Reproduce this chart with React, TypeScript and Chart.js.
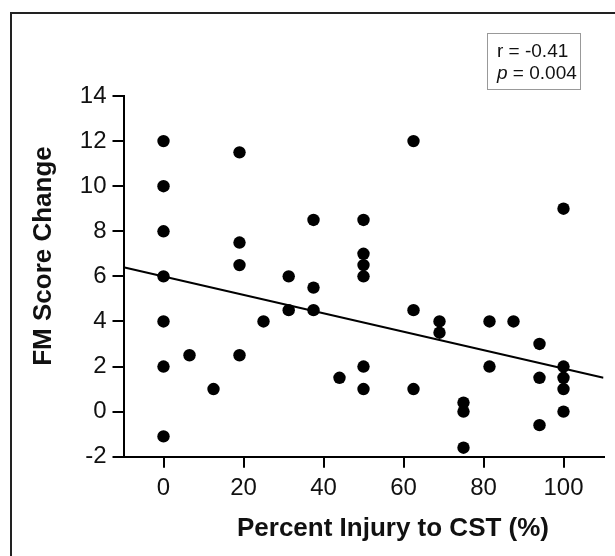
import { useEffect, useRef } from 'react';
import { Chart, registerables } from 'chart.js';

Chart.register(...registerables);

const injuryPct = [
  0, 0, 0, 0, 0, 0, 0,
  6.5, 12.5,
  19, 19, 19, 19,
  25,
  31.3, 31.3,
  37.5, 37.5, 37.5,
  44,
  50, 50, 50, 50, 50, 50,
  62.5, 62.5, 62.5,
  69, 69,
  75, 75, 75,
  81.5, 81.5,
  87.5,
  94, 94, 94,
  100, 100, 100, 100, 100,
];
const fmChange = [
  12, 10, 8, 6, 4, 2, -1.1,
  2.5, 1,
  11.5, 7.5, 6.5, 2.5,
  4,
  6, 4.5,
  8.5, 5.5, 4.5,
  1.5,
  8.5, 7, 6.5, 6, 2, 1,
  12, 4.5, 1,
  4, 3.5,
  0.4, 0, -1.6,
  4, 2,
  4,
  3, 1.5, -0.6,
  9, 2, 1.5, 1, 0,
];
const fitX = [-10, 110];
const fitY = [6.4, 1.5];
const xTicks = [0, 20, 40, 60, 80, 100];
const yTicks = [-2, 0, 2, 4, 6, 8, 10, 12, 14];
const xTitle = 'Percent Injury to CST (%)';
const yTitle = 'FM Score Change';
const statR = 'r = -0.41';
const statP = '= 0.004';

const FONT = '"Liberation Sans", Arial, Helvetica, sans-serif';

const titlePlugin = {
  id: 'axisTitles',
  afterDraw(chart: any) {
    const ctx = chart.ctx;
    ctx.save();
    ctx.fillStyle = '#111';
    ctx.font = `bold 26px ${FONT}`;
    ctx.textAlign = 'center';
    ctx.textBaseline = 'alphabetic';
    ctx.fillText(xTitle, 393, 536);
    ctx.translate(51, 256);
    ctx.rotate(-Math.PI / 2);
    ctx.fillText(yTitle, 0, 0);
    ctx.restore();
  },
};

export default function App() {
  const ref = useRef<HTMLCanvasElement | null>(null);

  useEffect(() => {
    if (!ref.current) return;
    const chart = new Chart(ref.current, {
      type: 'scatter',
      data: {
        datasets: [
          {
            type: 'scatter',
            data: injuryPct.map((x, i) => ({ x, y: fmChange[i] })),
            backgroundColor: '#000',
            borderWidth: 0,
            pointRadius: 6.2,
            pointHoverRadius: 6.2,
          },
          {
            type: 'line',
            data: fitX.map((x, i) => ({ x, y: fitY[i] })),
            borderColor: '#000',
            borderWidth: 2,
            pointRadius: 0,
            fill: false,
          } as any,
        ],
      },
      options: {
        animation: false,
        responsive: false,
        devicePixelRatio: 1,
        layout: { padding: { top: 96, right: 11.5, left: 0, bottom: 0 } },
        plugins: { legend: { display: false }, tooltip: { enabled: false } },
        scales: {
          x: {
            type: 'linear',
            min: -10,
            max: 110,
            afterBuildTicks: (s: any) => {
              s.ticks = xTicks.map((v) => ({ value: v }));
            },
            afterFit: (s: any) => {
              s.height = 99.3;
            },
            grid: {
              drawOnChartArea: false,
              drawTicks: true,
              tickLength: 11,
              color: '#000',
              lineWidth: 2,
            },
            border: { display: true, color: '#000', width: 2 },
            ticks: {
              color: '#111',
              font: { family: FONT, size: 24 },
              padding: 6,
              maxRotation: 0,
            },
          },
          y: {
            type: 'linear',
            min: -2,
            max: 14,
            afterBuildTicks: (s: any) => {
              s.ticks = yTicks.map((v) => ({ value: v }));
            },
            afterFit: (s: any) => {
              s.width = 123.5;
            },
            grid: {
              drawOnChartArea: false,
              drawTicks: true,
              tickLength: 11,
              color: '#000',
              lineWidth: 2,
            },
            border: { display: true, color: '#000', width: 2 },
            ticks: {
              color: '#111',
              font: { family: FONT, size: 24 },
              padding: 6,
            },
          },
        },
      },
      plugins: [titlePlugin],
    });
    return () => chart.destroy();
  }, []);

  return (
    <div
      style={{
        position: 'fixed',
        left: 0,
        top: 0,
        width: 615,
        height: 556,
        overflow: 'hidden',
        background: '#fff',
      }}
    >
      <div
        style={{
          position: 'absolute',
          left: 10,
          top: 12,
          width: 800,
          height: 800,
          borderLeft: '2.5px solid #222',
          borderTop: '2.5px solid #222',
        }}
      />
      <canvas
        ref={ref}
        width={615}
        height={556}
        style={{ position: 'absolute', left: 0, top: 0, width: 615, height: 556 }}
      />
      <div
        style={{
          position: 'absolute',
          left: 487,
          top: 33,
          width: 94,
          height: 57,
          border: '1px solid #999',
          fontFamily: FONT,
          fontSize: 19,
          lineHeight: '22px',
          color: '#111',
          paddingLeft: 9,
          paddingTop: 6,
          boxSizing: 'border-box',
          whiteSpace: 'nowrap',
        }}
      >
        <div>{statR}</div>
        <div>
          <i>p</i> {statP}
        </div>
      </div>
    </div>
  );
}
